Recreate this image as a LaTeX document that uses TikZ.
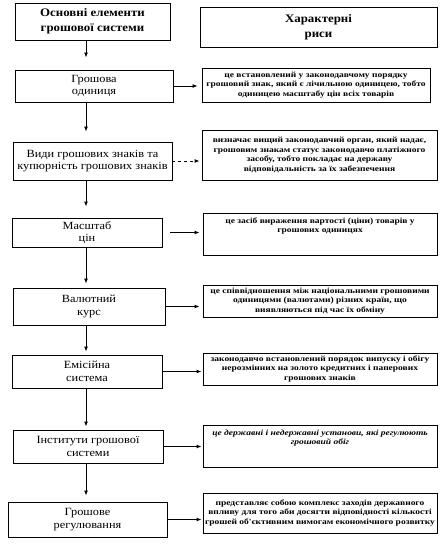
\documentclass[tikz,border=0pt]{standalone}
\usepackage{fontspec}
\setmainfont{Liberation Serif}
\newfontfamily\leftfont[FakeStretch=1.12]{Liberation Serif}
\newfontfamily\rightfont[FakeStretch=1.2]{Liberation Serif}
\usetikzlibrary{arrows.meta}
\begin{document}
\begin{tikzpicture}[x=1pt,y=-1pt,
  box/.style={draw, line width=0.9pt, rectangle, inner sep=0pt, align=center},
  titletext/.style={font=\leftfont\bfseries\fontsize{11.5}{15}\selectfont},
  lefttext/.style={font=\leftfont\fontsize{11}{12.5}\selectfont},
  righttext/.style={font=\rightfont\bfseries\fontsize{7.9}{9.4}\selectfont, align=center},
  conn/.style={line width=0.9pt, -{Latex[length=5pt,width=4pt]}},
  vconn/.style={conn, shorten >=5pt}
]
\useasboundingbox[fill=white] (0,0) rectangle (442,550);
% headers
\node[box, titletext, minimum width=155pt, minimum height=37pt] (L1) at (92.5,21.5) {Основні елементи\\грошової системи};
\node[box, titletext, minimum width=237pt, minimum height=40pt] (R1) at (318.5,27) {Характерні\\риси};
% left column
\node[box, lefttext, minimum width=158pt, minimum height=32pt] (L2) at (94,86) {Грошова\\одиниця};
\node[box, lefttext, minimum width=159pt, minimum height=38pt] (L3) at (92.5,161) {Види грошових знаків та\\купюрність грошових знаків};
\node[box, lefttext, minimum width=150pt, minimum height=29pt] (L4) at (87,232.5) {Масштаб\\цін};
\node[box, lefttext, minimum width=152pt, minimum height=37pt] (L5) at (89,306.5) {Валютний\\курс};
\node[box, lefttext, minimum width=150pt, minimum height=33pt] (L6) at (87,371.5) {Емісійна\\система};
\node[box, lefttext, minimum width=150pt, minimum height=33pt] (L7) at (88,446.5) {Інститути грошової\\системи};
\node[box, lefttext, minimum width=159pt, minimum height=35pt] (L8) at (87.5,519.5) {Грошове\\регулювання};
% right column
\node[box, righttext, minimum width=228pt, minimum height=34pt] (R2) at (316,85) {це встановлений у законодавчому порядку\\грошовий знак, який є лічильною одиницею, тобто\\одиницею масштабу цін всіх товарів};
\node[box, righttext, minimum width=235pt, minimum height=50pt] (R3) at (319.5,155) {визначає вищий законодавчий орган, який надає,\\грошовим знакам статус законодавчо платіжного\\засобу, тобто покладає на  державу\\відповідальність за їх забезпечення};
\node[box, minimum width=234pt, minimum height=42pt] (R4) at (320,234) {};
\node[righttext, anchor=north, inner sep=0pt] (T4) at ([yshift=-5pt]R4.north) {це засіб вираження вартості (ціни) товарів у\\грошових одиницях};
\node[box, righttext, minimum width=234pt, minimum height=32pt] (R5) at (320,301) {це співвідношення між національними грошовими\\одиницями (валютами) різних країн, що\\виявляються під час їх обміну};
\node[box, righttext, minimum width=234pt, minimum height=32pt] (R6) at (320,369) {законодавчо встановлений порядок випуску і обігу\\нерозмінних на золото кредитних і паперових\\грошових знаків};
\node[box, minimum width=234pt, minimum height=42pt] (R7) at (320,446) {};
\node[righttext, font=\rightfont\bfseries\itshape\fontsize{7.9}{9.4}\selectfont, anchor=north, inner sep=0pt] (T7) at ([yshift=-5pt]R7.north) {це державні  і недержавні установи, які регулюють\\грошовий обіг};
\node[box, righttext, minimum width=234pt, minimum height=40pt] (R8) at (320,513) {представляє собою комплекс заходів державного\\впливу для того аби досягти відповідності кількості\\грошей об'єктивним вимогам економічного розвитку};
% vertical connectors
\coordinate (col) at (86,0);
\draw[vconn, shorten >=12pt] (L1.south -| col) -- (L2.north -| col);
\draw[vconn, shorten >=10pt] (L2.south -| col) -- (L3.north -| col);
\draw[vconn, shorten >=11pt] (L3.south -| col) -- (L4.north -| col);
\draw[vconn, shorten >=4pt] (L4.south -| col) -- (L5.north -| col);
\draw[vconn, shorten >=3pt] (L5.south -| col) -- (L6.north -| col);
\draw[vconn, shorten >=3pt] (L6.south -| col) -- (L7.north -| col);
\draw[vconn, shorten >=6pt] (L7.south -| col) -- (L8.north -| col);
% horizontal connectors
\draw[conn, shorten >=4pt] (L2.east) -- (L2.east -| R2.west);
\draw[conn, dashed, shorten >=2pt] (L3.east) -- (L3.east -| R3.west);
\draw[conn, shorten <=8pt, shorten >=3pt] (L4.east) -- (L4.east -| R4.west);
\draw[conn, shorten >=3pt] (L5.east) -- (L5.east -| R5.west);
\draw[conn, shorten >=1pt] (L6.east) -- (L6.east -| R6.west);
\draw[conn, shorten >=1pt] (L7.east) -- (L7.east -| R7.west);
\draw[conn, shorten >=1pt] (L8.east) -- (L8.east -| R8.west);
\end{tikzpicture}
\end{document}
